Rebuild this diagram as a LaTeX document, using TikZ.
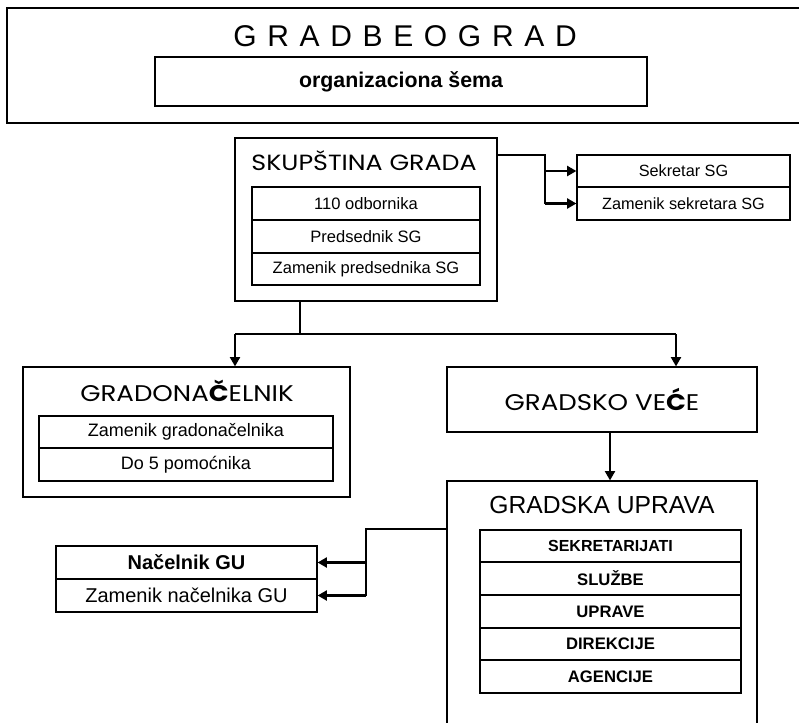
\documentclass[tikz,border=0pt]{standalone}
\usepackage{fontspec}
\setmainfont{Liberation Sans}
\newfontfamily\geo[FakeStretch=1.15]{Poppins}
\usetikzlibrary{arrows.meta}
\tikzset{
  box/.style={draw=black, line width=0.9pt, inner sep=0pt, align=center},
  txt/.style={inner sep=0pt, align=center},
  conn/.style={draw=black, line width=1.6pt},
  arr/.style={draw=black, line width=1.6pt, -{Triangle[length=7pt,width=7.5pt]}},
  barr/.style={draw=black, line width=2pt, -{Triangle[length=7pt,width=7.5pt]}},
}
\newcommand{\myletgap}{\hspace{8pt}}
\begin{document}
\begin{tikzpicture}[x=0.75pt, y=-0.75pt]
\clip (0,0) rectangle (799,722);
\useasboundingbox (0,0) rectangle (799,722);
% header frame
\draw[line width=0.9pt] (810,8) -- (7,8) -- (7,123) -- (810,123);
\node[txt, font=\fontsize{22.5}{26}\selectfont] (title) at (405,36) {G\myletgap R\myletgap A\myletgap D\myletgap B\myletgap E\myletgap O\myletgap G\myletgap R\myletgap A\myletgap D};
\node[box, minimum width=369pt, minimum height=36.75pt, font=\bfseries\fontsize{16}{18}\selectfont] (sub) at (401,81.5) {organizaciona šema};
% Skupstina
\node[box, minimum width=196.5pt, minimum height=122.25pt] (skup) at (366,219.5) {};
\node[txt, font=\geo\fontsize{16.5}{19}\selectfont] (skupT) at (364,161) {SKUPŠTINA GRADA};
\node[box, minimum width=171pt, minimum height=24.75pt, font=\fontsize{12.4}{14}\selectfont] (r1) at (366,203.5) {110 odbornika};
\node[box, minimum width=171pt, minimum height=24.75pt, font=\fontsize{12.4}{14}\selectfont] (r2) at (366,236.5) {Predsednik SG};
\node[box, minimum width=171pt, minimum height=24pt, font=\fontsize{12.4}{14}\selectfont] (r3) at (366,269) {Zamenik predsednika SG};
% Sekretar
\node[box, minimum width=159.75pt, minimum height=24pt, font=\fontsize{12.2}{14}\selectfont] (sek1) at (683.5,171) {Sekretar SG};
\node[box, minimum width=159.75pt, minimum height=24.75pt, font=\fontsize{12.2}{14}\selectfont] (sek2) at (683.5,203.5) {Zamenik sekretara SG};
% Gradonacelnik
\node[box, minimum width=245.25pt, minimum height=97.5pt] (grad) at (186.5,432) {};
\node[txt, font=\geo\fontsize{17}{20}\selectfont] (gradT) at (187,391) {GRADONA{\bfseries Č}ELNIK};
\node[box, minimum width=220.5pt, minimum height=24pt, font=\fontsize{13.5}{16}\selectfont] (g1) at (186,432) {Zamenik gradonačelnika};
\node[box, minimum width=220.5pt, minimum height=24.75pt, font=\fontsize{13.5}{16}\selectfont] (g2) at (186,464.5) {Do 5 pomoćnika};
% Gradsko vece
\node[box, minimum width=232.5pt, minimum height=48.75pt, font=\geo\fontsize{17}{20}\selectfont] (gv) at (602,399.5) {GRADSKO VE{\bfseries Ć}E};
% Gradska uprava
\node[box, minimum width=232.5pt, minimum height=195pt] (gu) at (602,611) {};
\node[txt, font=\fontsize{18.5}{21}\selectfont] (guT) at (602,505) {GRADSKA UPRAVA};
\node[box, minimum width=195.75pt, minimum height=24pt, font=\bfseries\fontsize{12}{14}\selectfont] (u1) at (610.5,546) {SEKRETARIJATI};
\node[box, minimum width=195.75pt, minimum height=24.75pt, font=\bfseries\fontsize{12.5}{14}\selectfont] (u2) at (610.5,578.5) {SLUŽBE};
\node[box, minimum width=195.75pt, minimum height=24.75pt, font=\bfseries\fontsize{12.5}{14}\selectfont] (u3) at (610.5,611.5) {UPRAVE};
\node[box, minimum width=195.75pt, minimum height=24pt, font=\bfseries\fontsize{12.5}{14}\selectfont] (u4) at (610.5,644) {DIREKCIJE};
\node[box, minimum width=195.75pt, minimum height=24.75pt, font=\bfseries\fontsize{12.5}{14}\selectfont] (u5) at (610.5,676.5) {AGENCIJE};
% Nacelnik
\node[box, minimum width=195.75pt, minimum height=24.75pt, font=\bfseries\fontsize{15}{17}\selectfont] (n1) at (186.5,562.5) {Načelnik GU};
\node[box, minimum width=195.75pt, minimum height=24.75pt, font=\fontsize{15}{17}\selectfont] (n2) at (186.5,595.5) {Zamenik načelnika GU};
% connectors
\coordinate (a1) at (545,155);
\coordinate (a3) at (545,203.5);
\draw[conn] (skup.east |- a1) -- (a1) -- (a3);
\draw[barr] (a1 |- sek1.west) -- (sek1.west);
\draw[barr] (a3) -- (sek2.west);
\coordinate (b0) at (300,334);
\coordinate (bl) at (235,334);
\coordinate (br) at (676,334);
\draw[conn] (skup.south -| b0) -- (b0);
\draw[conn] (bl) -- (br);
\draw[arr] (bl) -- (grad.north -| bl);
\draw[arr] (br) -- (gv.north -| br);
\coordinate (c0) at (610,0);
\draw[arr] (gv.south -| c0) -- (gu.north -| c0);
\coordinate (d1) at (366,529);
\coordinate (d3) at (366,595.5);
\draw[conn] (gu.west |- d1) -- (d1) -- (d3);
\draw[barr] (d1 |- n1.east) -- (n1.east);
\draw[barr] (d3) -- (n2.east);
\end{tikzpicture}
\end{document}
